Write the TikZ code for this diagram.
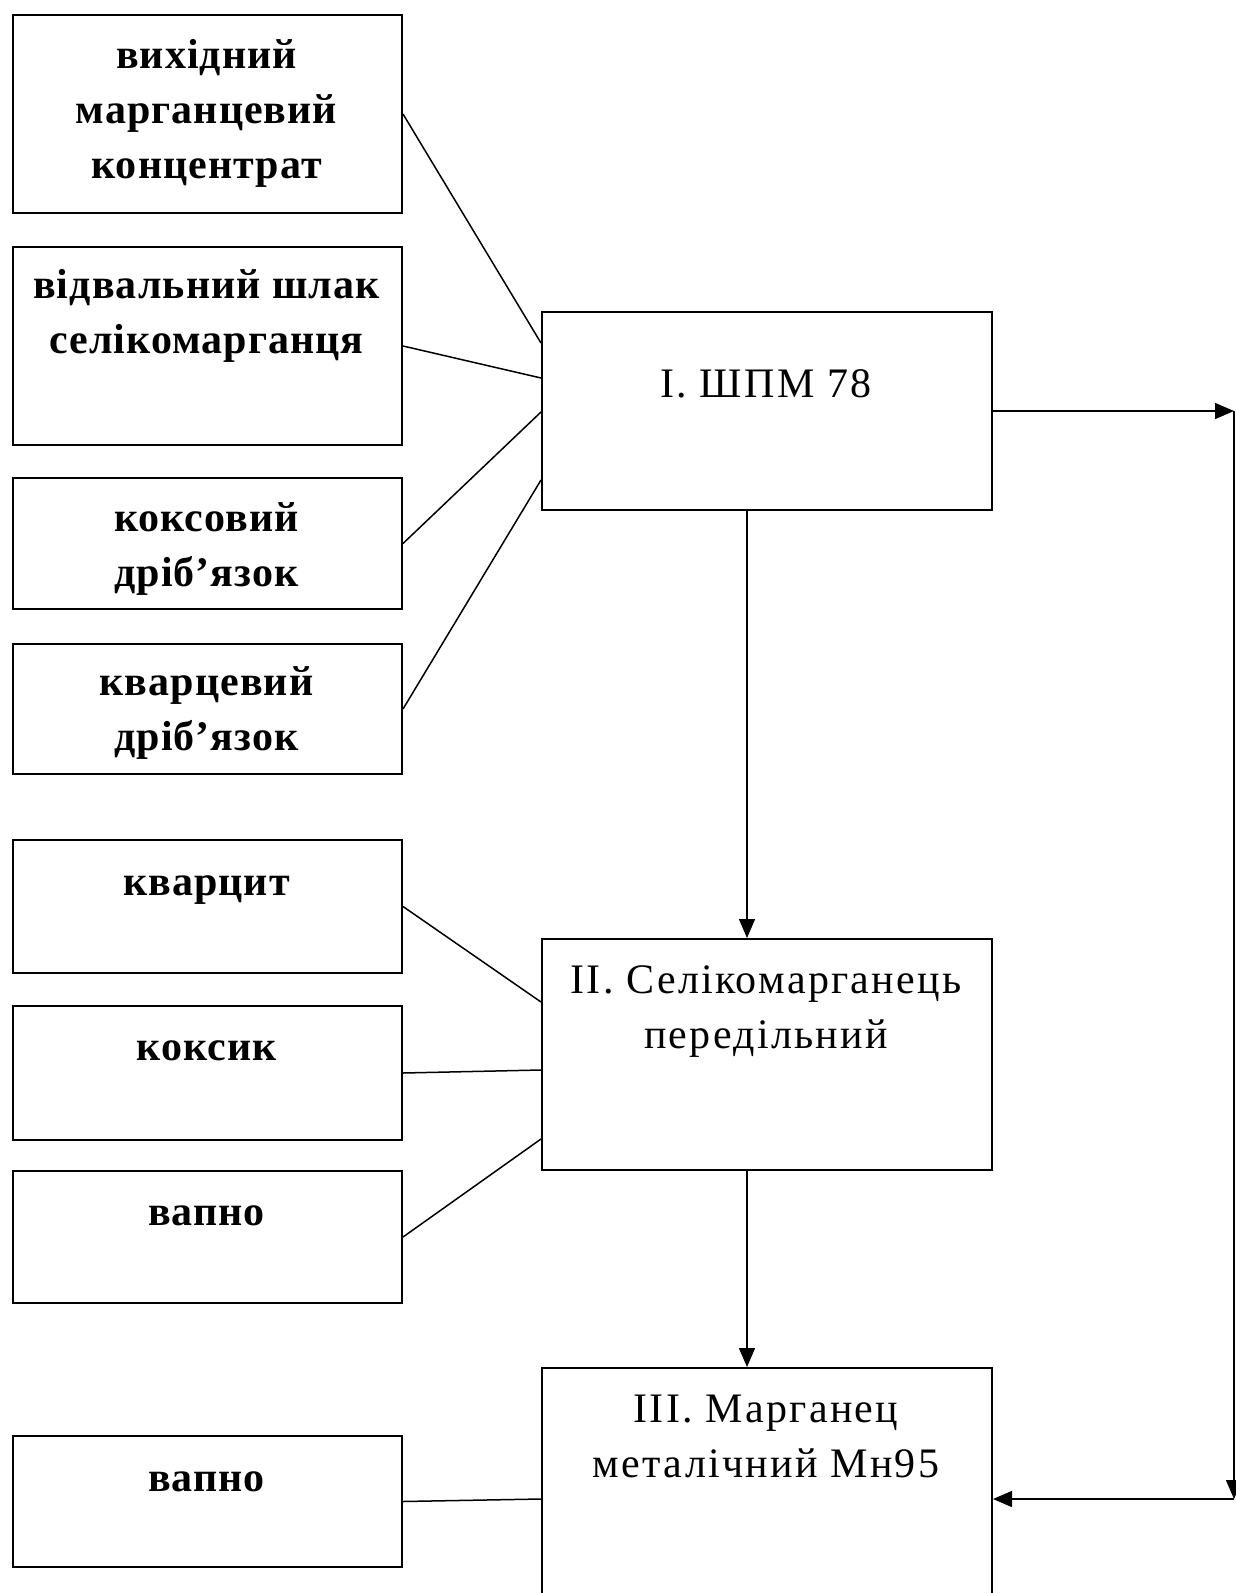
\documentclass[tikz,border=0pt]{standalone}
\usepackage{fontspec}
\setmainfont{Liberation Serif}
\newfontfamily\procfont[LetterSpace=5.5]{Liberation Serif}
\newfontfamily\leftfont[LetterSpace=2.5]{Liberation Serif Bold}
\usetikzlibrary{arrows.meta,calc}
\begin{document}
\begin{tikzpicture}[x=1pt,y=-1pt,
  box/.style={draw,line width=2pt,rectangle,inner sep=0pt,anchor=north west},
  lbox/.style={box,minimum width=389pt},
  txt/.style={anchor=north,align=center,inner sep=0pt,font=\fontsize{42}{55}\selectfont},
  ltxt/.style={txt,font=\fontsize{42}{55}\leftfont},
  ptxt/.style={txt,font=\fontsize{42}{55}\procfont},
  link/.style={line width=1.5pt},
  arr/.style={line width=1.5pt,-{Triangle[length=19pt,width=16pt]}}]
\useasboundingbox (0,0) rectangle (1236,1593);
\fill[white] (0,0) rectangle (1236,1593);
\clip (0,0) rectangle (1236,1593);

% left input boxes
\node[lbox,minimum height=198pt] (b1) at (12,14) {};
\node[lbox,minimum height=198pt] (b2) at (12,246) {};
\node[lbox,minimum height=131pt] (b3) at (12,477) {};
\node[lbox,minimum height=130pt] (b4) at (12,643) {};
\node[lbox,minimum height=133pt] (b5) at (12,839) {};
\node[lbox,minimum height=134pt] (b6) at (12,1005) {};
\node[lbox,minimum height=132pt] (b7) at (12,1170) {};
\node[lbox,minimum height=131pt] (b8) at (12,1435) {};

% process boxes
\node[box,minimum width=450pt,minimum height=198pt] (p1) at (541,311) {};
\node[box,minimum width=450pt,minimum height=231pt] (p2) at (541,938) {};
\node[box,minimum width=450pt,minimum height=280pt] (p3) at (541,1367) {};

% texts
\node[ltxt] (t1) at (206.5,26) {\rule{0pt}{42pt}вихідний\\марганцевий\\концентрат};
\node[ltxt] (t2) at (206.5,256) {\rule{0pt}{42pt}відвальний шлак\\селікомарганця};
\node[ltxt] (t3) at (206.5,489) {\rule{0pt}{42pt}коксовий\\дріб’язок};
\node[ltxt] (t4) at (206.5,653) {\rule{0pt}{42pt}кварцевий\\дріб’язок};
\node[ltxt] (t5) at (206.5,853) {\rule{0pt}{42pt}кварцит};
\node[ltxt] (t6) at (206.5,1018) {\rule{0pt}{42pt}коксик};
\node[ltxt] (t7) at (206.5,1183) {\rule{0pt}{42pt}вапно};
\node[ltxt] (t8) at (206.5,1449) {\rule{0pt}{42pt}вапно};
\node[ptxt] (tp1) at (766,355) {\rule{0pt}{42pt}I. ШПМ 78};
\node[ptxt] (tp2) at (766,951) {\rule{0pt}{42pt}II. Селікомарганець\\передільний};
\node[ptxt] (tp3) at (766,1380) {\rule{0pt}{42pt}III. Марганец\\металічний Мн95};

% input connectors
\draw[link] (b1.east) -- ($(p1.north west)+(0,32)$);
\draw[link] (b2.east) -- ($(p1.north west)+(0,67)$);
\draw[link] (b3.east) -- ($(p1.north west)+(0,101)$);
\draw[link] (b4.east) -- ($(p1.north west)+(0,169)$);
\draw[link] (b5.east) -- ($(p2.north west)+(0,64)$);
\draw[link] (b6.east) -- ($(p2.north west)+(0,132)$);
\draw[link] (b7.east) -- ($(p2.north west)+(0,201)$);
\draw[link] (b8.east) -- ($(p3.north west)+(0,132)$);

% main flow
\draw[arr] ($(p1.south)+(-20,0)$) -- ($(p2.north)+(-20,0)$);
\draw[arr] ($(p2.south)+(-20,0)$) -- ($(p3.north)+(-20,0)$);

% return route on the right
\coordinate (xr) at (1234,0);
\coordinate (rt) at (p1.east -| xr);
\coordinate (rb) at ($(p3.north east)+(0,132)$);
\coordinate (rb2) at (rb -| xr);
\draw[arr] (p1.east) -- (rt);
\draw[arr] (rt) -- (rb2);
\draw[arr] (rb2) -- (rb);
\end{tikzpicture}
\end{document}
